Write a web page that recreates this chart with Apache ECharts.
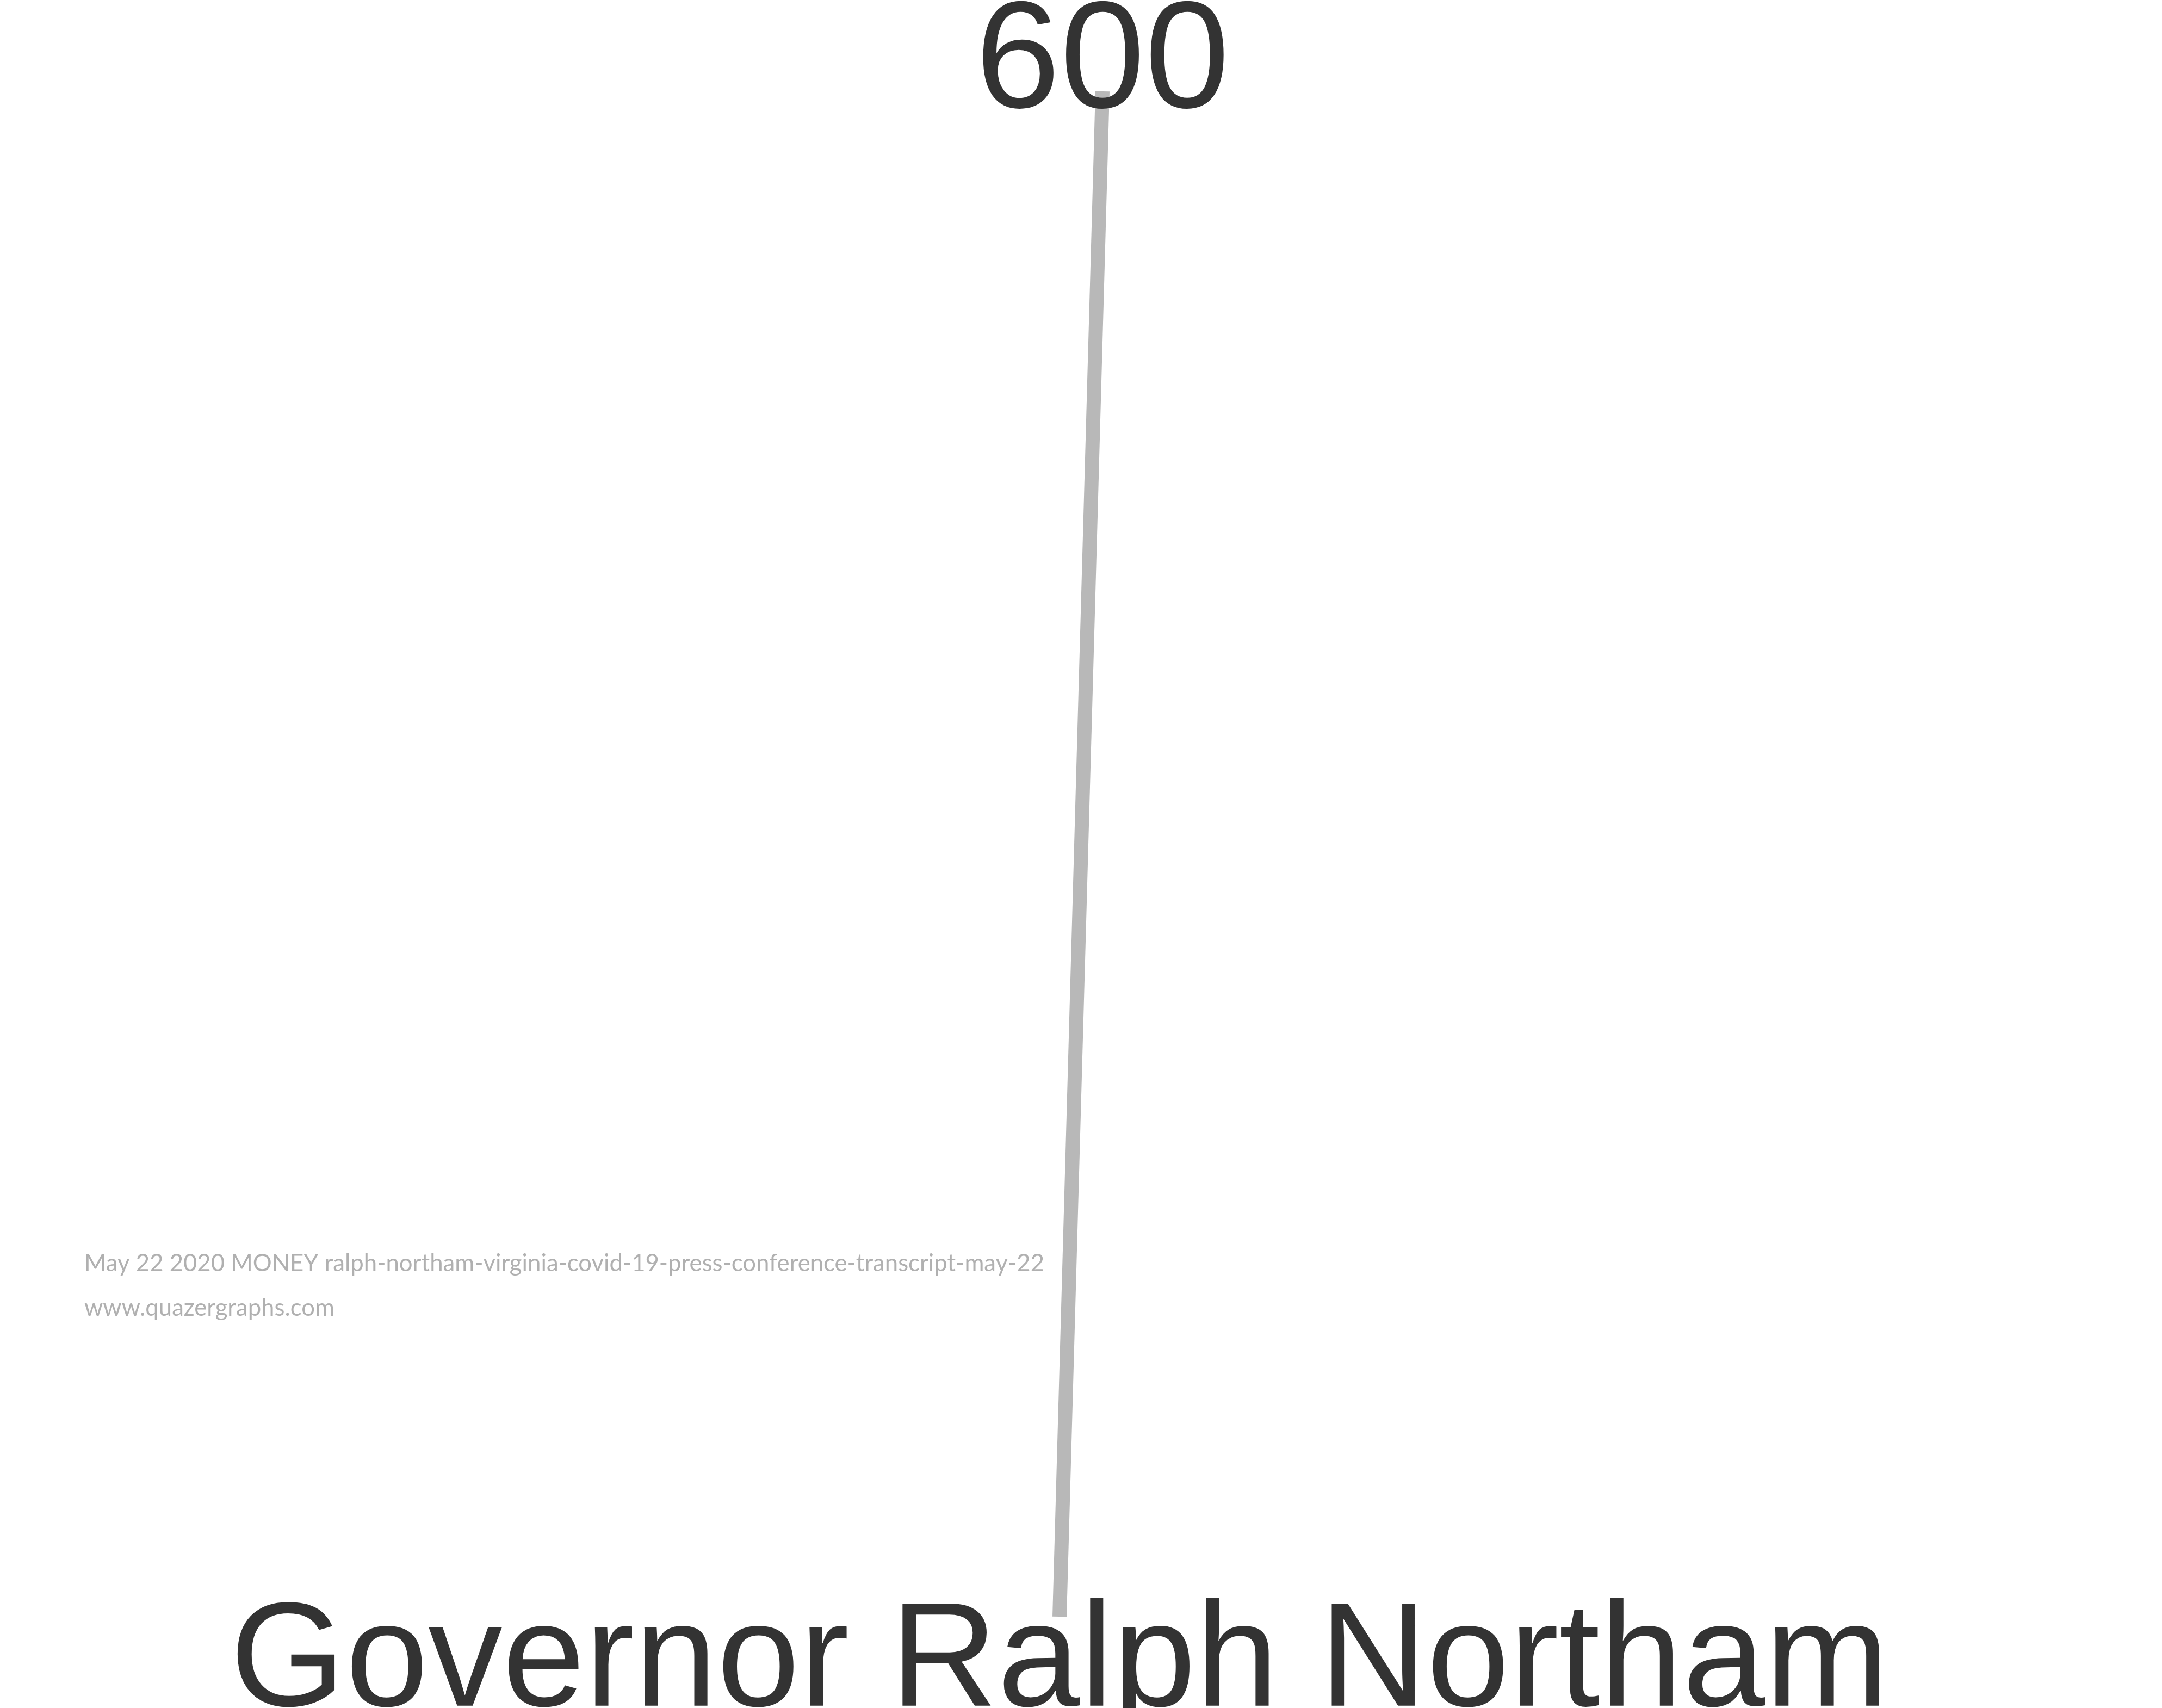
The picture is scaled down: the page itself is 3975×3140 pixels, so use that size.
<!DOCTYPE html>
<html>
<head>
<meta charset="utf-8">
<title>Governor Ralph Northam</title>
<style>
  html, body { margin: 0; padding: 0; background: #fff; }
  #main { width: 3975px; height: 3140px; }
</style>
</head>
<body>
<div id="main"></div>
<script src="https://cdn.jsdelivr.net/npm/echarts@6/dist/echarts.min.js"></script>
<script>
// data
var categories = ['Governor Ralph Northam'];
var values = [600];
var sourceNotes = [
    'May 22 2020 MONEY ralph-northam-virginia-covid-19-press-conference-transcript-may-22',
    'www.quazergraphs.com'
];

var myChart = echarts.init(document.getElementById('main'));

var option = {
    backgroundColor: '#fff',
    animation: false,
    grid: {
        left: 0,
        right: 79,
        top: 168,
        bottom: 168,
        containLabel: false,
        outerBoundsMode: 'none'
    },
    xAxis: {
        type: 'category',
        data: categories,
        axisLine: { show: false },
        axisTick: { show: false },
        axisLabel: {
            interval: 0,
            margin: -48,
            color: '#333',
            fontFamily: 'Liberation Sans',
            fontSize: 273
        }
    },
    yAxis: {
        type: 'value',
        min: 0,
        max: 600,
        show: false
    },
    graphic: [
        {
            type: 'text', left: 155, top: 2301,
            style: { text: sourceNotes[0], fill: '#b0b0b0', fontFamily: 'Lato', fontSize: 43.7 }
        },
        {
            type: 'text', left: 155, top: 2383,
            style: { text: sourceNotes[1], fill: '#b0b0b0', fontFamily: 'Lato', fontSize: 43.7 }
        }
    ],
    series: [
        {
            type: 'custom',
            data: values.map(function (v, i) { return [i, v]; }),
            renderItem: function (params, api) {
                var idx = api.value(0);
                var val = api.value(1);
                var bottom = api.coord([idx, 0]);
                var top = api.coord([idx, val]);
                var lean = 79; // the stroke leans a little to the right
                return {
                    type: 'group',
                    children: [
                        {
                            type: 'line',
                            shape: { x1: bottom[0], y1: bottom[1], x2: top[0] + lean, y2: top[1] },
                            style: { stroke: '#b8b8b8', lineWidth: 26, lineCap: 'butt' }
                        },
                        {
                            type: 'text',
                            z2: 10,
                            style: {
                                text: String(val),
                                x: top[0] + lean,
                                y: top[1] + 92,
                                align: 'center',
                                verticalAlign: 'bottom',
                                fill: '#333',
                                fontFamily: 'Liberation Sans',
                                fontSize: 280
                            }
                        }
                    ]
                };
            }
        }
    ]
};

myChart.setOption(option);
</script>
</body>
</html>
